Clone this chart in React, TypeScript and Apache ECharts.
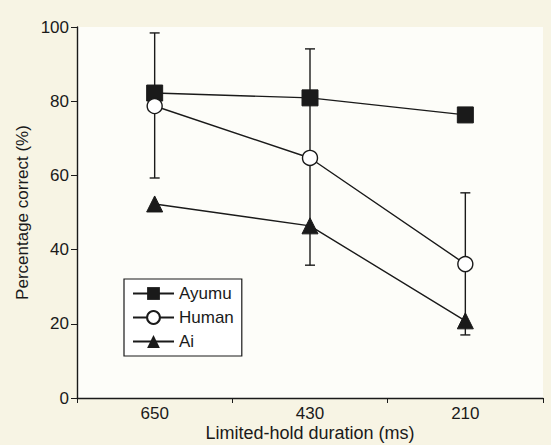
import React, { useEffect, useRef } from "react";
import * as echarts from "echarts";

const categories = ["650", "430", "210"];
const ayumu = [82.2, 80.9, 76.3];
const human = [78.7, 64.7, 36.1];
const ai = [52.3, 46.4, 20.8];
const humanLow = [59.3, 35.8, 17.0];
const humanHigh = [98.4, 94.1, 55.3];
const yTicks = [0, 20, 40, 60, 80, 100];

const INK = "#1a1a1a";
const FONT = "Liberation Sans";

export default function App() {
  const ref = useRef<HTMLDivElement>(null);
  useEffect(() => {
    if (!ref.current) return;
    const chart = echarts.init(ref.current, null, { renderer: "svg" });
    const errData = categories.map((_, i) => [i, humanLow[i], humanHigh[i]]);
    chart.setOption({
      animation: false,
      backgroundColor: "#f7f4e4",
      textStyle: { fontFamily: FONT },
      grid: {
        left: 77,
        right: 8,
        top: 27,
        bottom: 47,
        show: true,
        backgroundColor: "#fdfdf9",
        borderWidth: 0,
        containLabel: false,
        outerBoundsMode: "none",
      },
      legend: {
        orient: "vertical",
        left: 124,
        top: 279,
        itemWidth: 41,
        itemHeight: 16,
        itemGap: 7,
        padding: [6, 8, 6, 8],
        borderColor: INK,
        borderWidth: 1.2,
        backgroundColor: "#ffffff",
        textStyle: { fontSize: 17, color: INK, fontFamily: FONT },
        data: ["Ayumu", "Human", "Ai"],
      },
      xAxis: {
        type: "category",
        data: categories,
        boundaryGap: true,
        name: "Limited-hold duration (ms)",
        nameLocation: "middle",
        nameGap: 25,
        nameMoveOverlap: false,
        nameTextStyle: { fontSize: 18, lineHeight: 20, color: INK, fontFamily: FONT },
        axisLine: { lineStyle: { color: INK, width: 1.4 } },
        axisTick: { show: true, length: 5, lineStyle: { color: INK } },
        axisLabel: { fontSize: 17, color: INK, margin: 7, fontFamily: FONT },
        splitLine: { show: false },
      },
      yAxis: {
        type: "value",
        min: 0,
        max: 100,
        interval: 20,
        name: "Percentage correct (%)",
        nameLocation: "middle",
        nameGap: 46,
        nameMoveOverlap: false,
        nameTextStyle: { fontSize: 17, color: INK, fontFamily: FONT },
        axisLine: { show: true, lineStyle: { color: INK, width: 1.4 } },
        axisTick: { show: true, length: 6, lineStyle: { color: INK } },
        axisLabel: {
          fontSize: 17,
          color: INK,
          margin: 8,
          fontFamily: FONT,
          formatter: (v: number) => (yTicks.includes(v) ? String(v) : ""),
        },
        splitLine: { show: false },
      },
      series: [
        {
          type: "custom",
          name: "err",
          z: 1,
          renderItem: (params: any, api: any) => {
            const i = api.value(0);
            const lo = api.coord([i, api.value(1)]);
            const hi = api.coord([i, api.value(2)]);
            const w = 5;
            const st = { stroke: INK, lineWidth: 1.4 };
            return {
              type: "group",
              children: [
                { type: "line", shape: { x1: hi[0], y1: hi[1], x2: lo[0], y2: lo[1] }, style: st },
                { type: "line", shape: { x1: hi[0] - w, y1: hi[1], x2: hi[0] + w, y2: hi[1] }, style: st },
                { type: "line", shape: { x1: lo[0] - w, y1: lo[1], x2: lo[0] + w, y2: lo[1] }, style: st },
              ],
            };
          },
          encode: { x: 0, y: [1, 2] },
          data: errData,
        },
        {
          type: "line",
          name: "Ayumu",
          data: ayumu,
          z: 3,
          symbol: "rect",
          symbolSize: 16,
          lineStyle: { color: INK, width: 1.4 },
          itemStyle: { color: INK, borderColor: INK },
        },
        {
          type: "line",
          name: "Human",
          data: human,
          z: 4,
          symbol: "circle",
          symbolSize: 15,
          lineStyle: { color: INK, width: 1.4 },
          itemStyle: { color: "#ffffff", borderColor: INK, borderWidth: 1.4 },
        },
        {
          type: "line",
          name: "Ai",
          data: ai,
          z: 3,
          symbol: "triangle",
          symbolSize: 16,
          lineStyle: { color: INK, width: 1.4 },
          itemStyle: { color: INK, borderColor: INK },
        },
      ],
    });
    return () => chart.dispose();
  }, []);
  return <div ref={ref} style={{ width: 551, height: 445, position: "absolute", left: 0, top: 0 }} />;
}
